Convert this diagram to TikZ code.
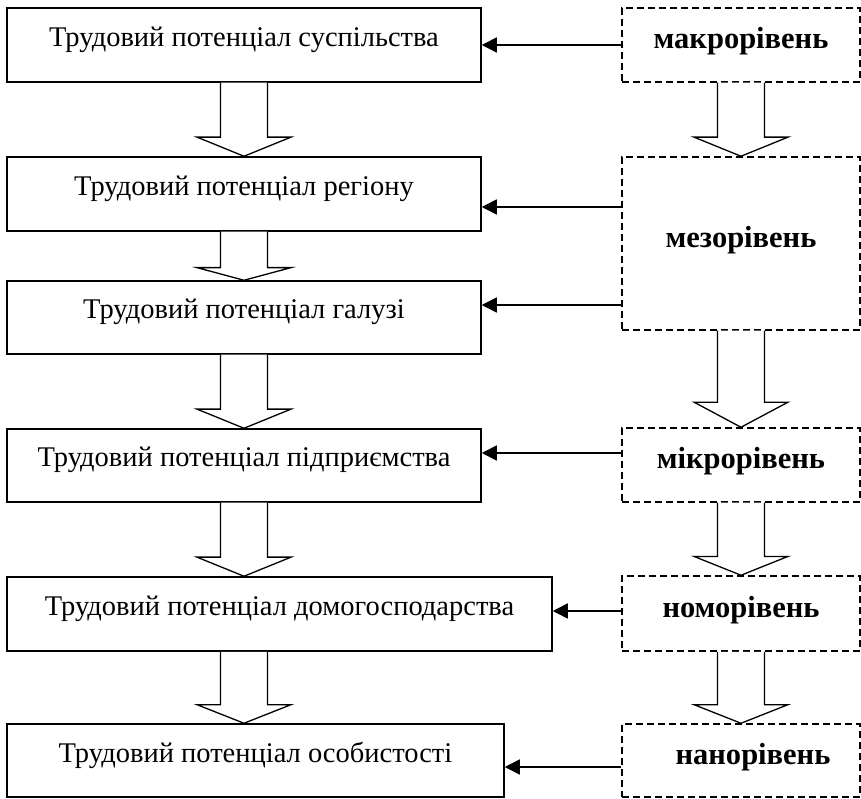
\documentclass[tikz,border=0pt]{standalone}
\usepackage{fontspec}
\setmainfont{Liberation Serif}
\usetikzlibrary{arrows.meta,calc}
\tikzset{
  level/.style={draw, line width=1.5pt, minimum width=474pt, minimum height=74pt,
    inner sep=0pt, text height=18pt, text depth=15pt, font=\fontsize{28.5}{30}\selectfont},
  tier/.style={draw, line width=1.5pt, dash pattern=on 7pt off 4pt, minimum width=238pt,
    inner sep=0pt, text height=16pt, text depth=8pt, font=\fontsize{30.5}{32}\selectfont\bfseries},
  feed/.style={line width=1.5pt, -{Triangle[length=15pt,width=15pt]}},
}
\newcommand{\hollowarrow}[3]{%
  \draw[line width=1.3pt, fill=white] let \p1=(#1), \p2=(#2.south), \p3=(#3.north),
      \p4=($(#2.south)!0.74!(#3.north)$) in
    (\x1-23.5pt,\y2) -- (\x1-23.5pt,\y4) -- (\x1-47pt,\y4) -- (\x1,\y3)
    -- (\x1+47pt,\y4) -- (\x1+23.5pt,\y4) -- (\x1+23.5pt,\y2);}
\begin{document}
\begin{tikzpicture}[x=1pt,y=1pt]
    \useasboundingbox (0,0) rectangle (861,798);
    % levels of labour potential
    \node[level] (soc) at (244,753) {Трудовий потенціал суспільства};
    \node[level] (reg) at (244,604) {Трудовий потенціал регіону};
    \node[level, minimum height=73pt] (gal) at (244,480.5) {Трудовий потенціал галузі};
    \node[level, minimum height=73pt] (ent) at (244,332.5) {Трудовий потенціал підприємства};
    \node[level, minimum width=545pt] (hh) at (279.5,184) {Трудовий потенціал домогосподарства};
    \node[level, minimum width=497pt, minimum height=73pt] (pers) at (255.5,37.5) {Трудовий потенціал особистості};
    % economic tiers
    \node[tier, minimum height=74pt] (macro) at (741,753) {макрорівень};
    \node[tier, minimum height=173pt] (meso) at (741,554.5) {мезорівень};
    \node[tier, minimum height=74pt] (micro) at (741,333) {мікрорівень};
    \node[tier, minimum height=75pt] (nomo) at (741,184.5) {номорівень};
    \node[tier, minimum height=73pt] (nano) at (741,37.5) {\hspace*{24pt}нанорівень};
    \foreach \a/\b in {soc/reg, reg/gal, gal/ent, ent/hh, hh/pers}
        \hollowarrow{soc.south}{\a}{\b};
    \foreach \a/\b in {macro/meso, meso/micro, micro/nomo, nomo/nano}
        \hollowarrow{macro.south}{\a}{\b};
    \foreach \s/\t/\d in {macro/soc/0, meso/reg/-13, meso/gal/12.5, micro/ent/12.5, nomo/hh/3, nano/pers/-6.5} {
        \path ($(\t.east)+(0,\d)$) coordinate (tip);
        \draw[feed] (\s.west |- tip) -- (tip);
    }
\end{tikzpicture}
\end{document}
